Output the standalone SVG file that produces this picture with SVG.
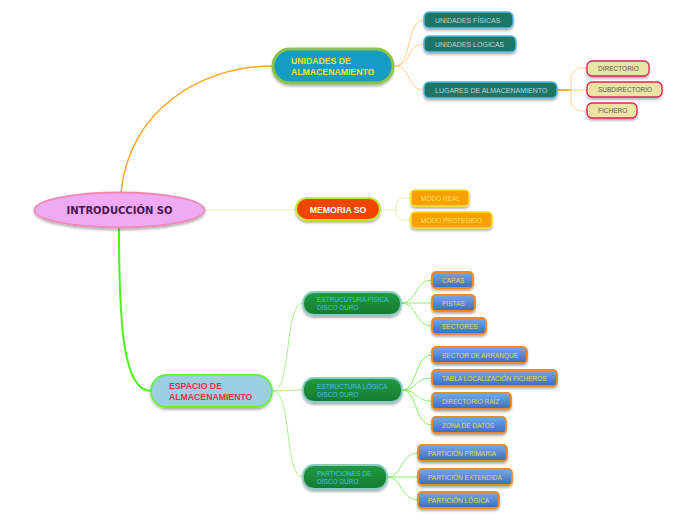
<svg xmlns="http://www.w3.org/2000/svg" width="696" height="520" viewBox="0 0 696 520">
<defs>
<filter id="sh" x="-20%" y="-30%" width="140%" height="180%">
<feDropShadow dx="0" dy="2" stdDeviation="1.2" flood-color="#000" flood-opacity="0.3"/>
</filter>
<linearGradient id="gBlue" x1="0" y1="0" x2="0" y2="1">
<stop offset="0" stop-color="#78a8e8"/><stop offset="1" stop-color="#3a6cc0"/>
</linearGradient>
<linearGradient id="gGreen" x1="0" y1="0" x2="0" y2="1">
<stop offset="0" stop-color="#229a42"/><stop offset="1" stop-color="#167a30"/>
</linearGradient>
</defs>
<style>
text{font-family:"Liberation Sans",Arial,sans-serif}
.b{font-weight:bold;font-size:8.7px}
.s{font-size:6.5px}
.t{font-size:7px;fill:#c8d0d8}
.teal{fill:#1f7664;stroke:#58b8e8;stroke-width:1.5}
.khaki{fill:#ece4a4;stroke:#e0205a;stroke-width:1.3}
.blue{fill:url(#gBlue);stroke:#f08a20;stroke-width:1.8}
.bt{fill:#e8d848}
.grn{fill:url(#gGreen);stroke:#88ccc4;stroke-width:1.8}
.gt{font-size:6.5px;fill:#48c0e8}
.org{fill:#f8a000;stroke:#f8e020;stroke-width:1.5}
.ot{font-size:6.5px;fill:#f8e070}
#connectors path{fill:none}
</style>
<g id="connectors">
<path d="M121,192 C130,110 200,66 273,66" stroke="#f8a428" stroke-width="1.5"/>
<path d="M395,66 C412,66 406,20 424,20" stroke="#ffc878" stroke-width="0.9"/>
<path d="M395,66 C412,66 406,44 424,44" stroke="#ffc878" stroke-width="0.9"/>
<path d="M395,66 C412,66 406,90 424,90" stroke="#ffc878" stroke-width="0.9"/>
<path d="M557,90 L571,90" stroke="#f8a428" stroke-width="1.8"/>
<path d="M571,90 L571,75 L578,68 L587,68 M571,90 L587,90 M571,90 L571,104 L578,111 L587,111" stroke="#ffcc88" stroke-width="0.9"/>
<path d="M205,210 L296,210" stroke="#e2f0a8" stroke-width="1"/>
<path d="M381,210 L396,210 L396,203 L401,198 L411,198 M396,210 L396,215 L401,220 L411,220" stroke="#e2f0a8" stroke-width="1"/>
<path d="M119,228 C119,330 124,391 151,391" stroke="#50f020" stroke-width="2"/>
<path d="M273,391 C292,391 284,303 303,303" stroke="#a8f090" stroke-width="1"/>
<path d="M273,391 L303,390" stroke="#a8f090" stroke-width="1"/>
<path d="M273,391 C292,391 284,477 303,477" stroke="#a8f090" stroke-width="1"/>
<path d="M401,303 C418,303 414,280 432,280" stroke="#88f068" stroke-width="1"/>
<path d="M401,303 L432,303" stroke="#88f068" stroke-width="1"/>
<path d="M401,303 C418,303 414,326 432,326" stroke="#88f068" stroke-width="1"/>
<path d="M402,390 C418,390 414,355 432,355" stroke="#88f068" stroke-width="1"/>
<path d="M402,390 C418,390 414,378 432,378" stroke="#88f068" stroke-width="1"/>
<path d="M402,390 C418,390 414,401 432,401" stroke="#88f068" stroke-width="1"/>
<path d="M402,390 C418,390 414,425 432,425" stroke="#88f068" stroke-width="1"/>
<path d="M387,477 C403,477 400,453 418,453" stroke="#88f068" stroke-width="1"/>
<path d="M387,477 L418,477" stroke="#88f068" stroke-width="1"/>
<path d="M387,477 C403,477 400,500 418,500" stroke="#88f068" stroke-width="1"/>
</g>
<g id="root">
<ellipse cx="119.5" cy="210" rx="85" ry="17.5" fill="#eeaaf2" stroke="#f088b4" stroke-width="1.8" filter="url(#sh)"/>
<text x="119.5" y="214" text-anchor="middle" font-family="DejaVu Sans,sans-serif" font-weight="bold" font-size="10" fill="#4a1450" style="font-family:'DejaVu Sans',sans-serif">INTRODUCCIÓN SO</text>
</g>
<g id="unidades">
<rect x="273" y="49" width="120" height="34" rx="17" fill="#169cc2" stroke="#8cc444" stroke-width="3" filter="url(#sh)"/>
<text class="b" x="291" y="64" fill="#f4e420">UNIDADES DE</text>
<text class="b" x="291" y="75" fill="#f4e420">ALMACENAMIENTO</text>
</g>
<g id="fisicas">
<rect class="teal" x="424" y="12" width="89" height="16" rx="5" filter="url(#sh)"/>
<text class="t" x="435" y="22.5">UNIDADES FÍSICAS</text>
</g>
<g id="logicas">
<rect class="teal" x="424" y="36" width="92" height="16" rx="5" filter="url(#sh)"/>
<text class="t" x="435" y="46.5">UNIDADES LOGICAS</text>
</g>
<g id="lugares">
<rect class="teal" x="424" y="82" width="133" height="16" rx="5" filter="url(#sh)"/>
<text class="t" x="435" y="92.5">LUGARES DE ALMACENAMIENTO</text>
</g>
<g id="directorio">
<rect class="khaki" x="587" y="61" width="62" height="15" rx="5" filter="url(#sh)"/>
<text class="s" x="598" y="71" fill="#585858">DIRECTORIO</text>
</g>
<g id="subdirectorio">
<rect class="khaki" x="587" y="82" width="75" height="15" rx="5" filter="url(#sh)"/>
<text class="s" x="598" y="92" fill="#585858">SUBDIRECTORIO</text>
</g>
<g id="fichero">
<rect class="khaki" x="587" y="103" width="50" height="15" rx="5" filter="url(#sh)"/>
<text class="s" x="598" y="113" fill="#585858">FICHERO</text>
</g>
<g id="memoria">
<rect x="296" y="198" width="84" height="22" rx="11" fill="#f24400" stroke="#c4e840" stroke-width="2" filter="url(#sh)"/>
<text class="b" x="338" y="212.5" text-anchor="middle" fill="#ffffff">MEMORIA SO</text>
</g>
<g id="modoreal">
<rect class="org" x="411" y="190" width="58" height="16" rx="4" filter="url(#sh)"/>
<text class="ot" x="421" y="200.5">MODO REAL</text>
</g>
<g id="modoprot">
<rect class="org" x="411" y="212" width="81" height="16" rx="4" filter="url(#sh)"/>
<text class="ot" x="421" y="222.5">MODO PROTEGIDO</text>
</g>
<g id="espacio">
<rect x="151" y="375" width="121" height="32" rx="16" fill="#9ad0e2" stroke="#64f040" stroke-width="1.8" filter="url(#sh)"/>
<text class="b" x="169" y="388.5" fill="#f02c40">ESPACIO DE</text>
<text class="b" x="169" y="399.5" fill="#f02c40">ALMACENAMIENTO</text>
</g>
<g id="estfisica">
<rect class="grn" x="303" y="292" width="98" height="23" rx="11" filter="url(#sh)"/>
<text class="gt" x="317" y="302">ESTRUCUTURA FÍSICA</text>
<text class="gt" x="317" y="310">DISCO DURO</text>
</g>
<g id="caras">
<rect class="blue" x="432" y="272" width="41" height="16" rx="4" filter="url(#sh)"/>
<text class="s bt" x="442" y="282.5">CARAS</text>
</g>
<g id="pistas">
<rect class="blue" x="432" y="295" width="43" height="16" rx="4" filter="url(#sh)"/>
<text class="s bt" x="442" y="305.5">PISTAS</text>
</g>
<g id="sectores">
<rect class="blue" x="432" y="318" width="54" height="16" rx="4" filter="url(#sh)"/>
<text class="s bt" x="442" y="328.5">SECTORES</text>
</g>
<g id="estlogica">
<rect class="grn" x="303" y="378" width="99" height="24" rx="11" filter="url(#sh)"/>
<text class="gt" x="317" y="388.5">ESTRUCTURA LÓGICA</text>
<text class="gt" x="317" y="396.5">DISCO DURO</text>
</g>
<g id="arranque">
<rect class="blue" x="432" y="347" width="95" height="16" rx="4" filter="url(#sh)"/>
<text class="s bt" x="442" y="357.5">SECTOR DE ARRANQUE</text>
</g>
<g id="tabla">
<rect class="blue" x="432" y="370" width="125" height="16" rx="4" filter="url(#sh)"/>
<text class="s bt" x="442" y="380.5">TABLA LOCALIZACIÓN FICHEROS</text>
</g>
<g id="raiz">
<rect class="blue" x="432" y="393" width="79" height="16" rx="4" filter="url(#sh)"/>
<text class="s bt" x="442" y="403.5">DIRECTORIO RAÍZ</text>
</g>
<g id="datos">
<rect class="blue" x="432" y="417" width="74" height="16" rx="4" filter="url(#sh)"/>
<text class="s bt" x="442" y="427.5">ZONA DE DATOS</text>
</g>
<g id="particiones">
<rect class="grn" x="303" y="465" width="84" height="24" rx="11" filter="url(#sh)"/>
<text class="gt" x="317" y="475.5">PARTICIONES DE</text>
<text class="gt" x="317" y="483.5">DISCO DURO</text>
</g>
<g id="primaria">
<rect class="blue" x="418" y="445" width="89" height="16" rx="4" filter="url(#sh)"/>
<text class="s bt" x="428" y="455.5">PARTICIÓN PRIMARIA</text>
</g>
<g id="extendida">
<rect class="blue" x="418" y="469" width="94" height="16" rx="4" filter="url(#sh)"/>
<text class="s bt" x="428" y="479.5">PARTICIÓN EXTENDIDA</text>
</g>
<g id="logica">
<rect class="blue" x="418" y="492" width="81" height="16" rx="4" filter="url(#sh)"/>
<text class="s bt" x="428" y="502.5">PARTICIÓN LÓGICA</text>
</g>
</svg>
